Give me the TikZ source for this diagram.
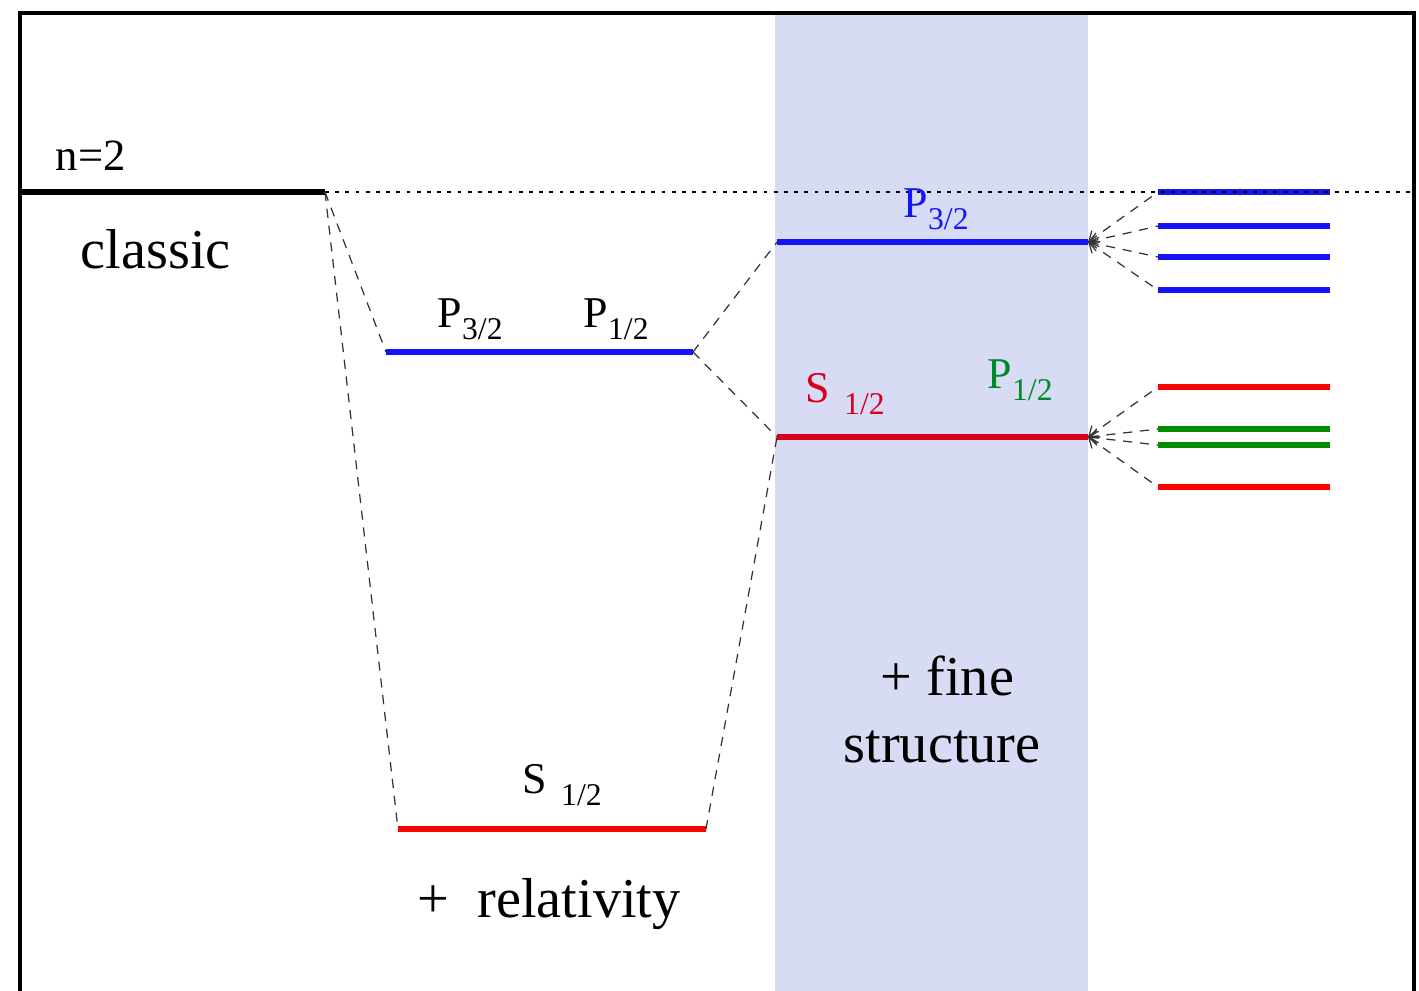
\documentclass[tikz,border=0pt]{standalone}
\usepackage{fontspec}
\setmainfont{Liberation Serif}
\usetikzlibrary{arrows.meta}
\definecolor{band}{RGB}{215,220,244}
\definecolor{lvblue}{RGB}{20,20,245}
\definecolor{lvred}{RGB}{255,0,0}
\definecolor{lvcrimson}{RGB}{215,0,30}
\definecolor{lvgreen}{RGB}{0,140,0}
\definecolor{lbgreen}{RGB}{0,135,40}
\newcommand\lvl[3]{#1\hspace{#2}\raisebox{-3.5pt}{\fontsize{9}{9}\selectfont #3}}
\begin{document}
\begin{tikzpicture}[x=0.01cm,y=-0.01cm,
  level/.style={line width=1.6pt},
  link/.style={dash pattern=on 2.6pt off 2.2pt, line width=0.35pt, black!80},
  fan/.style={link, {Straight Barb[length=2.5pt,width=4pt]}-},
  lbl/.style={anchor=base west, inner sep=0pt, font=\fontsize{12.5}{14}\selectfont},
  big/.style={anchor=base west, inner sep=0pt, font=\fontsize{16}{19}\selectfont}]
\useasboundingbox (0,0) rectangle (1419,990);
% band
\fill[band] (775,13) rectangle (1088,1000);
% frame
\draw[line width=1.1pt] (20,1000) -- (20,13) -- (1414,13) -- (1414,1000);

% level end points
\coordinate (cl-l) at (20,192);   \coordinate (cl-r) at (325,192);
\coordinate (rp-l) at (386,352);  \coordinate (rp-r) at (693,352);
\coordinate (rs-l) at (398,829);  \coordinate (rs-r) at (706,829);
\coordinate (fp-l) at (777,242);  \coordinate (fp-r) at (1088,242);
\coordinate (fs-l) at (777,437);  \coordinate (fs-r) at (1088,437);
\coordinate (rim) at (1414,192);
\foreach \n/\y in {1/192,2/226,3/257,4/290,5/387,6/429,7/445,8/487}{
  \coordinate (h\n-l) at (1158,\y); \coordinate (h\n-r) at (1330,\y);}

% levels
\draw[level, line width=1.8pt] (cl-l) -- (cl-r);
\draw[level, lvblue] (rp-l) -- (rp-r);
\draw[level, lvred] (rs-l) -- (rs-r);
\draw[level, lvblue] (fp-l) -- (fp-r);
\draw[level, lvcrimson] (fs-l) -- (fs-r);
\foreach \n in {1,2,3,4}{\draw[level, lvblue] (h\n-l) -- (h\n-r);}
\draw[level, lvred] (h5-l) -- (h5-r);
\draw[level, lvgreen] (h6-l) -- (h6-r);
\draw[level, lvgreen] (h7-l) -- (h7-r);
\draw[level, lvred] (h8-l) -- (h8-r);

% reference line
\draw[line width=0.4pt, dash pattern=on 1.1pt off 1.8pt] (cl-r) -- (rim);

% connectors
\draw[link] (cl-r) -- (rp-l);
\draw[link] (cl-r) -- (rs-l);
\draw[link] (rp-r) -- (fp-l);
\draw[link] (rp-r) -- (fs-l);
\draw[link] (rs-r) -- (fs-l);
\foreach \n in {1,2,3,4}{\draw[fan] (fp-r) -- (h\n-l);}
\foreach \n in {5,6,7,8}{\draw[fan] (fs-r) -- (h\n-l);}

% labels
\node[lbl, font=\fontsize{12.7}{14}\selectfont] (n2) at (55,170) {n=2};
\node[big] (classic) at (80,268) {classic};
\node[lbl] (rp3) at (437,327) {\lvl{P}{0pt}{3/2}};
\node[lbl] (rp1) at (583,327) {\lvl{P}{0pt}{1/2}};
\node[lbl] (rs) at (522,793) {\lvl{S}{4pt}{1/2}};
\node[lbl, lvblue] (fp3) at (903,217) {\lvl{P}{0pt}{3/2}};
\node[lbl, lvcrimson] (fs1) at (805,402) {\lvl{S}{4pt}{1/2}};
\node[lbl, lbgreen] (fp1) at (987,388) {\lvl{P}{0pt}{1/2}};
\node[big] (rel) at (417,917) {+\hspace{0.5em}relativity};
\node[big] (fine) at (880,695) {+ fine};
\node[big] (struct) at (843,762) {structure};
\end{tikzpicture}
\end{document}
